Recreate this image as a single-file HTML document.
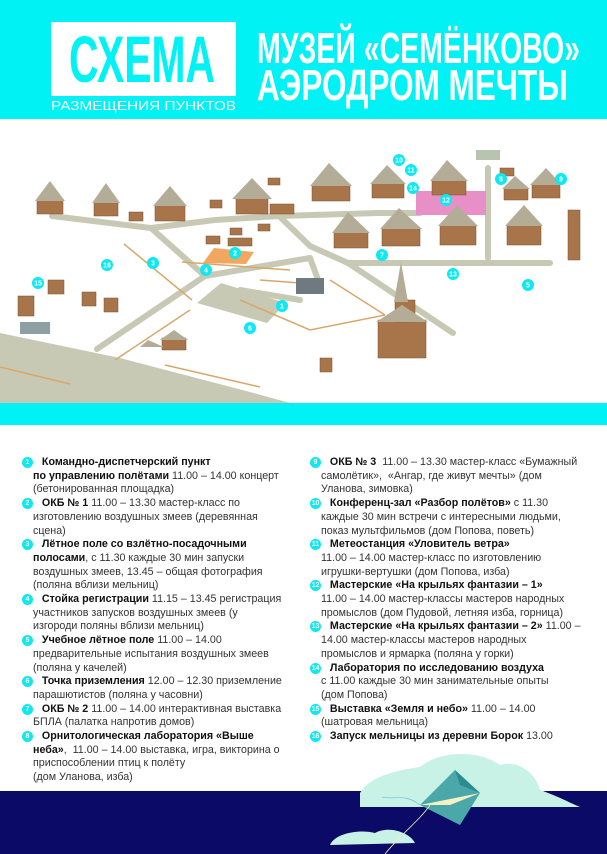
<!DOCTYPE html>
<html><head><meta charset="utf-8"><style>
*{margin:0;padding:0}
body{width:607px;height:854px;position:relative;overflow:hidden;background:#fff;font-family:"Liberation Sans",sans-serif}
.hdr{position:absolute;left:0;top:0;width:607px;height:119px;background:#00f2f4}
.band{position:absolute;left:0;top:403px;width:607px;height:22px;background:#00f2f4}
.col{position:absolute;top:456px;font-size:10.7px;line-height:13.7px;color:#333;white-space:nowrap}
.col b{color:#111}
.col .it{position:relative;padding-left:8px}
.m{position:absolute;width:11px;height:11px;border-radius:50%;background:#0ee8f0;color:#fff;font-size:7px;line-height:11px;text-align:center;font-weight:bold}
.navy{position:absolute;left:0;top:791px;width:607px;height:63px;background:#0b0a66}
</style></head><body>
<div class="hdr"></div>
<svg style="position:absolute;left:0;top:0" width="607" height="119">
<rect x="51" y="22" width="185" height="74" fill="#fff"/>
<text x="69" y="82" font-family="Liberation Sans" font-weight="bold" font-size="66" fill="#00f2f4" textLength="146" lengthAdjust="spacingAndGlyphs">СХЕМА</text>
<text x="51" y="110" font-family="Liberation Sans" font-size="12.5" fill="#fff" textLength="185" lengthAdjust="spacingAndGlyphs">РАЗМЕЩЕНИЯ ПУНКТОВ</text>
<text x="257" y="63" font-family="Liberation Sans" font-weight="bold" font-size="44" fill="#fff" textLength="323" lengthAdjust="spacingAndGlyphs">МУЗЕЙ «СЕМЁНКОВО»</text>
<text x="257" y="100" font-family="Liberation Sans" font-weight="bold" font-size="44" fill="#fff" textLength="311" lengthAdjust="spacingAndGlyphs">АЭРОДРОМ МЕЧТЫ</text>
</svg>

<svg style="position:absolute;left:0;top:119px" width="607" height="284" viewBox="0 119 607 284">
<g fill="#c8c9b4">
<polygon points="0,333 120,358 250,392 290,403 0,403"/>
<polygon points="197,303 221,283 286,303 267,323"/>
</g>
<g stroke="#c8c9b4" stroke-width="6" fill="none" stroke-linecap="round" stroke-linejoin="round">
<polyline points="52,216 151,228 215,220 279,216 379,213 420,213"/>
<polyline points="151,228 205,276 310,258"/>
<polyline points="205,276 97,349"/>
<polyline points="279,216 310,246 348,263 550,263"/>
<polyline points="488,168 488,258"/>
<polyline points="348,263 453,333"/>
<polyline points="310,258 320,285"/>
<polyline points="240,290 300,300"/>
</g>
<g stroke="#d9a66a" stroke-width="1.5" fill="none">
<polyline points="124,244 192,300"/><polyline points="115,360 190,310"/>
<polyline points="165,365 260,387"/><polyline points="182,262 290,270"/>
<polyline points="240,300 310,330 385,315"/><polyline points="260,280 300,283"/>
<polyline points="330,280 385,315"/><polyline points="0,367 70,384"/>
</g>
<rect x="416" y="191" width="70" height="24" fill="#e98fc8"/>
<polygon points="203,263 214,248 254,252 246,264" fill="#f0a860"/>
<g fill="#a8754a" stroke="#7a5030" stroke-width="0.5">
<rect x="37" y="200" width="26" height="14"/><rect x="94" y="202" width="24" height="14"/>
<rect x="155" y="205" width="30" height="16"/><rect x="129" y="212" width="14" height="9"/>
<rect x="210" y="200" width="12" height="8"/><rect x="236" y="198" width="32" height="16"/>
<rect x="270" y="204" width="24" height="10"/><rect x="268" y="178" width="12" height="7"/>
<rect x="312" y="184" width="38" height="17"/><rect x="372" y="183" width="32" height="15"/>
<rect x="432" y="180" width="34" height="15"/><rect x="500" y="168" width="14" height="8"/>
<rect x="504" y="188" width="24" height="12"/><rect x="532" y="184" width="28" height="14"/>
<rect x="507" y="225" width="34" height="20"/><rect x="440" y="225" width="36" height="20"/>
<rect x="382" y="228" width="38" height="18"/><rect x="334" y="232" width="34" height="16"/>
<rect x="568" y="210" width="12" height="50"/><rect x="230" y="228" width="12" height="7"/>
<rect x="258" y="224" width="12" height="7"/><rect x="206" y="236" width="14" height="8"/>
<rect x="228" y="238" width="24" height="8"/><rect x="48" y="280" width="16" height="14"/>
<rect x="18" y="296" width="16" height="20"/><rect x="82" y="292" width="14" height="14"/>
<rect x="104" y="298" width="14" height="14"/><rect x="162" y="338" width="24" height="12"/>
<rect x="378" y="320" width="48" height="38"/><rect x="395" y="300" width="20" height="22"/>
<rect x="320" y="358" width="12" height="14"/>
</g>
<g fill="#b3ad98">
<polygon points="35,201 50,181 65,201"/><polygon points="92,203 106,183 120,203"/>
<polygon points="153,206 170,186 187,206"/><polygon points="232,199 252,178 272,199"/>
<polygon points="310,186 329,163 352,186"/><polygon points="370,184 387,165 406,184"/>
<polygon points="430,181 447,160 468,181"/><polygon points="505,226 524,205 543,226"/>
<polygon points="438,226 457,205 478,226"/><polygon points="380,229 399,208 422,229"/>
<polygon points="332,233 348,212 370,233"/><polygon points="530,185 546,168 562,185"/>
<polygon points="502,189 515,176 530,189"/><polygon points="394,302 401,262 408,302"/>
<polygon points="376,322 402,305 428,322"/><polygon points="160,340 174,330 188,340"/>
<polygon points="140,347 148,340 164,347"/>
</g>
<rect x="296" y="278" width="28" height="16" fill="#6f7a80"/><rect x="476" y="150" width="24" height="10" fill="#b8c4b0"/>
<rect x="20" y="322" width="30" height="12" fill="#8fa0a4"/>
<g font-family="Liberation Sans" font-size="7" font-weight="bold" text-anchor="middle">
<circle cx="399" cy="160" r="6" fill="#0ee8f0"/><text x="399" y="162.5" fill="#fff">10</text>
<circle cx="411" cy="170" r="6" fill="#0ee8f0"/><text x="411" y="172.5" fill="#fff">11</text>
<circle cx="413" cy="188" r="6" fill="#0ee8f0"/><text x="413" y="190.5" fill="#fff">14</text>
<circle cx="446" cy="200" r="6" fill="#0ee8f0"/><text x="446" y="202.5" fill="#fff">12</text>
<circle cx="501" cy="179" r="6" fill="#0ee8f0"/><text x="501" y="181.5" fill="#fff">8</text>
<circle cx="561" cy="179" r="6" fill="#0ee8f0"/><text x="561" y="181.5" fill="#fff">9</text>
<circle cx="235" cy="253" r="6" fill="#0ee8f0"/><text x="235" y="255.5" fill="#fff">2</text>
<circle cx="382" cy="255" r="6" fill="#0ee8f0"/><text x="382" y="257.5" fill="#fff">7</text>
<circle cx="153" cy="263" r="6" fill="#0ee8f0"/><text x="153" y="265.5" fill="#fff">3</text>
<circle cx="107" cy="265" r="6" fill="#0ee8f0"/><text x="107" y="267.5" fill="#fff">16</text>
<circle cx="206" cy="270" r="6" fill="#0ee8f0"/><text x="206" y="272.5" fill="#fff">4</text>
<circle cx="453" cy="274" r="6" fill="#0ee8f0"/><text x="453" y="276.5" fill="#fff">13</text>
<circle cx="38" cy="283" r="6" fill="#0ee8f0"/><text x="38" y="285.5" fill="#fff">15</text>
<circle cx="528" cy="285" r="6" fill="#0ee8f0"/><text x="528" y="287.5" fill="#fff">5</text>
<circle cx="282" cy="306" r="6" fill="#0ee8f0"/><text x="282" y="308.5" fill="#fff">1</text>
<circle cx="250" cy="328" r="6" fill="#0ee8f0"/><text x="250" y="330.5" fill="#fff">6</text>
</g>
</svg>
<div class="band"></div>

<div class="col" style="left:25px">
<div class="it"><span class="m" style="left:-3px;top:1px">1</span>&nbsp;&nbsp;&nbsp;<b>Командно-диспетчерский пункт</b><br><b>по управлению полётами</b> 11.00 – 14.00 концерт<br>(бетонированная площадка)</div>
<div class="it"><span class="m" style="left:-3px;top:1px">2</span>&nbsp;&nbsp;&nbsp;<b>ОКБ № 1</b> 11.00 – 13.30 мастер-класс по<br>изготовлению воздушных змеев (деревянная<br>сцена)</div>
<div class="it"><span class="m" style="left:-3px;top:1px">3</span>&nbsp;&nbsp;&nbsp;<b>Лётное поле со взлётно-посадочными</b><br><b>полосами</b>, с 11.30 каждые 30 мин запуски<br>воздушных змеев, 13.45 – общая фотография<br>(поляна вблизи мельниц)</div>
<div class="it"><span class="m" style="left:-3px;top:1px">4</span>&nbsp;&nbsp;&nbsp;<b>Стойка регистрации</b> 11.15 – 13.45 регистрация<br>участников запусков воздушных змеев (у<br>изгороди поляны вблизи мельниц)</div>
<div class="it"><span class="m" style="left:-3px;top:1px">5</span>&nbsp;&nbsp;&nbsp;<b>Учебное лётное поле</b> 11.00 – 14.00<br>предварительные испытания воздушных змеев<br>(поляна у качелей)</div>
<div class="it"><span class="m" style="left:-3px;top:1px">6</span>&nbsp;&nbsp;&nbsp;<b>Точка приземления</b> 12.00 – 12.30 приземление<br>парашютистов (поляна у часовни)</div>
<div class="it"><span class="m" style="left:-3px;top:1px">7</span>&nbsp;&nbsp;&nbsp;<b>ОКБ № 2</b> 11.00 – 14.00 интерактивная выставка<br>БПЛА (палатка напротив домов)</div>
<div class="it"><span class="m" style="left:-3px;top:1px">8</span>&nbsp;&nbsp;&nbsp;<b>Орнитологическая лаборатория «Выше</b><br><b>неба»</b>,&nbsp; 11.00 – 14.00 выставка, игра, викторина о<br>приспособлении птиц к полёту<br>(дом Уланова, изба)</div>
</div>

<div class="col" style="left:313px">
<div class="it"><span class="m" style="left:-3px;top:1px">9</span>&nbsp;&nbsp;&nbsp;<b>ОКБ № 3</b>&nbsp; 11.00 – 13.30 мастер-класс «Бумажный<br>самолётик»,&nbsp; «Ангар, где живут мечты» (дом<br>Уланова, зимовка)</div>
<div class="it"><span class="m" style="left:-3px;top:1px">10</span>&nbsp;&nbsp;&nbsp;<b>Конференц-зал «Разбор полётов»</b> с 11.30<br>каждые 30 мин встречи с интересными людьми,<br>показ мультфильмов (дом Попова, поветь)</div>
<div class="it"><span class="m" style="left:-3px;top:1px">11</span>&nbsp;&nbsp;&nbsp;<b>Метеостанция «Уловитель ветра»</b><br>11.00 – 14.00 мастер-класс по изготовлению<br>игрушки-вертушки (дом Попова, изба)</div>
<div class="it"><span class="m" style="left:-3px;top:1px">12</span>&nbsp;&nbsp;&nbsp;<b>Мастерские «На крыльях фантазии – 1»</b><br>11.00 – 14.00 мастер-классы мастеров народных<br>промыслов (дом Пудовой, летняя изба, горница)</div>
<div class="it"><span class="m" style="left:-3px;top:1px">13</span>&nbsp;&nbsp;&nbsp;<b>Мастерские «На крыльях фантазии – 2»</b> 11.00 –<br>14.00 мастер-классы мастеров народных<br>промыслов и ярмарка (поляна у горки)</div>
<div class="it"><span class="m" style="left:-3px;top:1px">14</span>&nbsp;&nbsp;&nbsp;<b>Лаборатория по исследованию воздуха</b><br>с 11.00 каждые 30 мин занимательные опыты<br>(дом Попова)</div>
<div class="it"><span class="m" style="left:-3px;top:1px">15</span>&nbsp;&nbsp;&nbsp;<b>Выставка «Земля и небо»</b> 11.00 – 14.00<br>(шатровая мельница)</div>
<div class="it"><span class="m" style="left:-3px;top:1px">16</span>&nbsp;&nbsp;&nbsp;<b>Запуск мельницы из деревни Борок</b> 13.00</div>
</div>

<div class="navy"></div>
<svg style="position:absolute;left:300px;top:745px" width="307" height="109">
<path d="M60,48 C70,30 100,25 120,22 C140,5 180,5 200,20 C215,15 235,25 240,45 C260,52 270,58 280,62 L60,62 Z" fill="#c9f2e6"/>
<path d="M30,100 C35,88 60,84 75,88 C90,80 110,88 115,98 Z" fill="#c9f2e6"/>
<polygon points="120,60 155,25 180,48 160,80" fill="#4aa8a8"/>
<polygon points="120,60 180,48 150,60" fill="#f6f0c4"/>
<polygon points="155,25 180,48 160,40" fill="#2a8c90"/>
<path d="M130,60 C120,75 100,90 85,109" stroke="#f6f0c4" stroke-width="0.8" fill="none"/>
<path d="M120,60 C105,48 95,55 82,52" stroke="#7ac8d0" stroke-width="0.8" fill="none"/>
</svg>
</body></html>
